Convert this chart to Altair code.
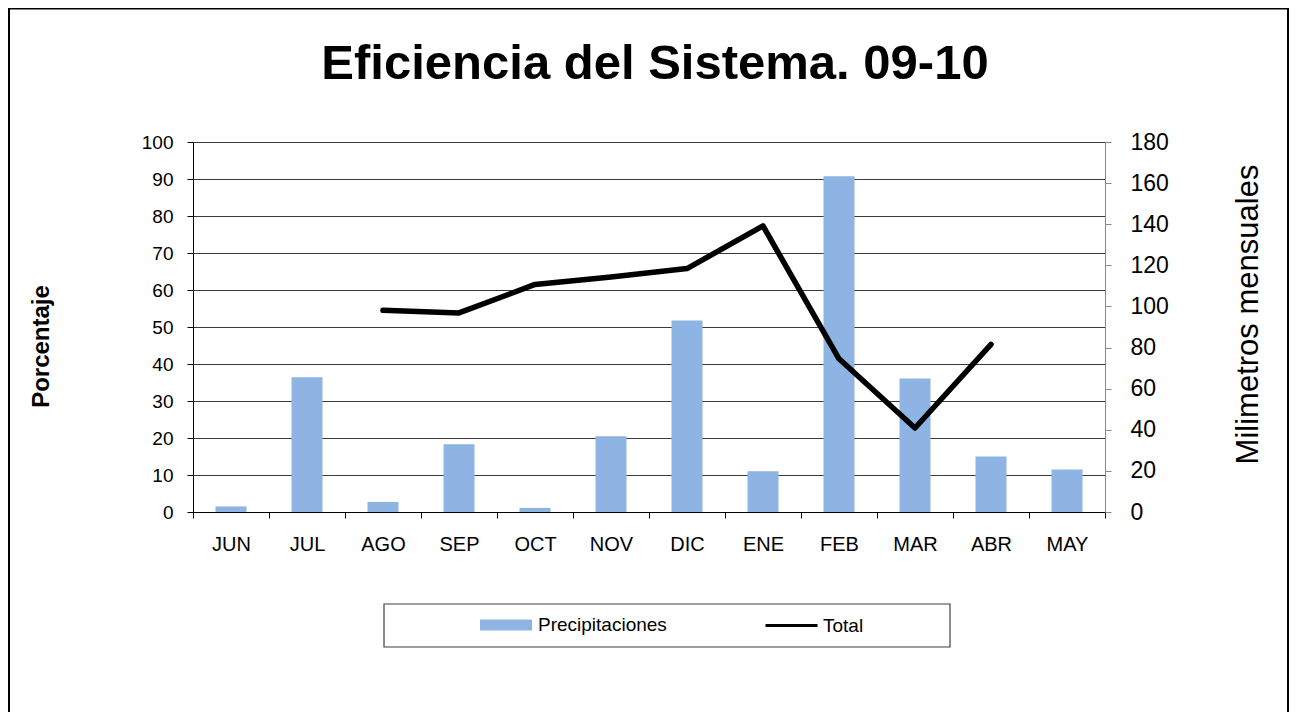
import altair as alt
import pandas as pd

months = ["JUN", "JUL", "AGO", "SEP", "OCT", "NOV", "DIC", "ENE", "FEB", "MAR", "ABR", "MAY"]
# Precipitaciones (mm mensuales, eje derecho)
precip_mm = [2.7, 65.5, 4.9, 33.0, 2.0, 36.9, 93.2, 19.8, 163.3, 65.0, 27.0, 20.7]
# Total (porcentaje, eje izquierdo)
total_pct = [None, None, 54.5, 53.8, 61.5, 63.5, 65.8, 77.3, 41.4, 22.7, 45.3, None]

left_ticks = list(range(0, 101, 10))
right_ticks = list(range(0, 181, 20))

bars_df = pd.DataFrame({"mes": months, "mm": precip_mm, "serie": "Precipitaciones"})
line_df = pd.DataFrame({"mes": months, "pct": total_pct, "serie": "Total"}).dropna()

FONT = "Liberation Sans"
PLOT_X0, PLOT_Y0 = 193, 142

x_enc = alt.X(
    "mes:N",
    sort=months,
    scale=alt.Scale(type="band", paddingInner=0, paddingOuter=0),
    axis=alt.Axis(
        title=None, labelAngle=0, tickBand="extent", tickSize=6, labelPadding=16,
        labelFontSize=20, labelColor="#000", domainColor="#000", tickColor="#000",
        grid=False,
    ),
)

bars = alt.Chart(bars_df).mark_bar(size=31).encode(
    x=x_enc,
    y=alt.Y(
        "mm:Q",
        scale=alt.Scale(domain=[0, 180], nice=False),
        axis=alt.Axis(
            orient="right", values=right_ticks, grid=False, title="Milimetros mensuales",
            labelFontSize=23, labelColor="#000", labelPadding=19, tickSize=6,
            domainColor="#888", tickColor="#888",
            titleFontSize=31, titleFontWeight="normal", titleColor="#000",
            titleAngle=270, titleX=143, titleY=172,
            titleAlign="center", titleBaseline="middle",
        ),
    ),
    fill=alt.Fill(
        "serie:N",
        scale=alt.Scale(domain=["Precipitaciones"], range=["#8EB4E3"]),
        legend=alt.Legend(
            orient="none", legendX=287, legendY=457, title=None, padding=0,
            symbolType="M-1,-0.21H1V0.21H-1Z", symbolSize=2704, symbolStrokeWidth=0,
            labelFontSize=19, labelOffset=6, labelColor="#000",
        ),
    ),
)

line = alt.Chart(line_df).mark_line(strokeWidth=5.5, strokeJoin="round", strokeCap="round").encode(
    x=x_enc,
    y=alt.Y(
        "pct:Q",
        scale=alt.Scale(domain=[0, 100], nice=False),
        axis=alt.Axis(
            orient="left", values=left_ticks, grid=True, gridColor="#3a3a3a", gridWidth=1,
            title="Porcentaje", labelFontSize=19, labelColor="#000", labelPadding=14,
            tickSize=6, domainColor="#000", tickColor="#000",
            titleFontSize=24, titleFontWeight="bold", titleColor="#000",
            titleAngle=270, titleX=-152, titleY=204,
            titleAlign="center", titleBaseline="middle",
        ),
    ),
    stroke=alt.Stroke(
        "serie:N",
        scale=alt.Scale(domain=["Total"], range=["#000000"]),
        legend=alt.Legend(
            orient="none", legendX=571, legendY=456, title=None, padding=0,
            symbolType="stroke", symbolSize=2704, symbolStrokeWidth=3,
            labelFontSize=19, labelOffset=4, labelColor="#000",
        ),
    ),
)

one = pd.DataFrame({"k": [0]})
legend_box = alt.Chart(one).mark_rect(fillOpacity=0, stroke="#404040", strokeWidth=1.2).encode(
    x=alt.value(384 - PLOT_X0), x2=alt.value(950 - PLOT_X0),
    y=alt.value(604 - PLOT_Y0), y2=alt.value(647 - PLOT_Y0),
)
frame = alt.Chart(one).mark_rect(fillOpacity=0, stroke="#000", strokeWidth=2).encode(
    x=alt.value(9 - PLOT_X0), x2=alt.value(1288 - PLOT_X0),
    y=alt.value(8.5 - PLOT_Y0), y2=alt.value(900),
)

chart = (
    alt.layer(bars, line, legend_box, frame)
    .resolve_scale(y="independent", fill="independent", stroke="independent")
    .properties(
        width=912, height=370,
        padding={"left": 185, "top": 134, "right": 184, "bottom": 200},
        autosize=alt.AutoSizeParams(type="none"),
        title=alt.TitleParams(
            "Eficiencia del Sistema. 09-10", fontSize=49, font=FONT, fontWeight="bold",
            anchor="middle", frame="group", baseline="alphabetic", offset=0, dy=120, dx=6,
            color="#000",
        ),
    )
    .configure(font=FONT)
    .configure_view(stroke=None)
)

chart.save("out.html", embed_options={"renderer": "svg", "actions": False})
